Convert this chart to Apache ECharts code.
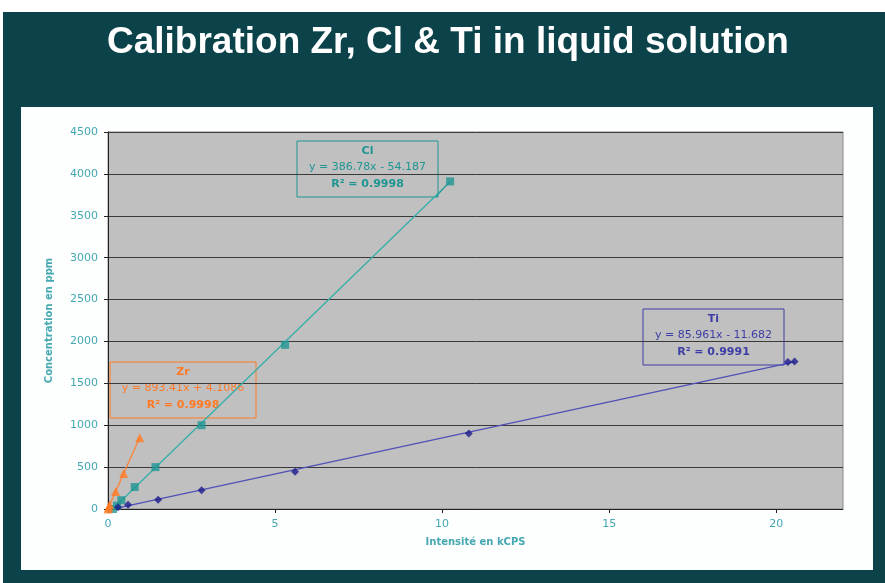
<!DOCTYPE html>
<html>
<head>
<meta charset="utf-8">
<script src="https://cdn.jsdelivr.net/npm/echarts@6/dist/echarts.min.js"></script>
<style>
  html, body { margin: 0; padding: 0; background: #fff; }
  #chart { width: 885px; height: 583px; }
</style>
</head>
<body>
<div id="chart"></div>
<script>
// calibration points (x = kCPS, y = ppm)
const clX = [0.15, 0.27, 0.4, 0.8, 1.42, 2.8, 5.3, 10.24];
const clY = [0, 40, 105, 262, 500, 1000, 1960, 3910];
const tiX = [0.3, 0.6, 1.5, 2.8, 5.6, 10.8, 20.35, 20.55];
const tiY = [20, 50, 110, 225, 445, 900, 1755, 1760];
const zrX = [0, 0.02, 0.05, 0.23, 0.47, 0.95];
const zrY = [0, 20, 50, 210, 425, 850];

// trendline coefficients [slope, intercept] as printed in the boxes
const clFit = [386.78, -54.187];
const tiFit = [85.961, -11.682];
const zrFit = [893.41, 4.1086];

const xTicks = [0, 5, 10, 15, 20];

const CL = '#1f9592', CL_LINE = '#34aea9';
const TI = '#1c1c8c', TI_LINE = '#5050b8';
const ZR = '#ff7a26', ZR_LINE = '#ff8336';
const LBL = '#45a8b2';

function pts(xs, ys) { return xs.map((x, i) => [x, ys[i]]); }
function trend(xs, fit) {
  const a = Math.min(...xs), b = Math.max(...xs);
  return [[a, fit[0] * a + fit[1]], [b, fit[0] * b + fit[1]]];
}

let myChart = echarts.init(document.getElementById('chart'));

function box(id, x, y, w, h, color, name, eq, r2) {
  return {
    id: id, type: 'group', x: x, y: y, z: 100,
    children: [
      { type: 'rect', shape: { x: 0, y: 0, width: w, height: h }, style: { fill: 'rgba(0,0,0,0)', stroke: color, lineWidth: 1 } },
      { type: 'text', x: w / 2, y: 10, style: { text: name, fill: color, font: 'bold 11px "DejaVu Sans"', align: 'center', verticalAlign: 'middle' } },
      { type: 'text', x: w / 2, y: 26, style: { text: eq, fill: color, font: '11px "DejaVu Sans"', align: 'center', verticalAlign: 'middle' } },
      { type: 'text', x: w / 2, y: 43, style: { text: r2, fill: color, font: 'bold 11px "DejaVu Sans"', align: 'center', verticalAlign: 'middle' } }
    ]
  };
}

myChart.setOption({
  animation: false,
  backgroundColor: '#fff',
  title: {
    text: 'Calibration Zr, Cl & Ti in liquid solution',
    left: 102, top: 19,
    textStyle: { color: '#fff', fontSize: 37, fontWeight: 'bold', fontFamily: '"Liberation Sans", Arial, sans-serif' }
  },
  graphic: [
    { id: 'dark', type: 'rect', z: -100, shape: { x: 3, y: 12, width: 882, height: 571 }, style: { fill: '#0c4249' } },
    { id: 'panel', type: 'rect', z: -99, shape: { x: 21, y: 107, width: 852, height: 463 }, style: { fill: '#fdfefe' } },
    box('clBox', 297, 141, 141, 56, CL, 'Cl', 'y = 386.78x - 54.187', 'R² = 0.9998'),
    box('zrBox', 110, 362, 146, 56, ZR, 'Zr', 'y = 893.41x + 4.1086', 'R² = 0.9998'),
    box('tiBox', 643, 309, 141, 56, '#3d3da6', 'Ti', 'y = 85.961x - 11.682', 'R² = 0.9991')
  ],
  grid: {
    left: 108, top: 132, width: 735, height: 377,
    show: true, backgroundColor: '#c0c0c0', borderColor: '#8a8a8a', borderWidth: 1
  },
  xAxis: {
    type: 'value', min: 0, max: 22, interval: 5,
    name: 'Intensité en kCPS', nameLocation: 'middle', nameGap: 28,
    nameTextStyle: { color: LBL, fontSize: 10, fontWeight: 'bold', fontFamily: '"DejaVu Sans"' },
    axisLine: { lineStyle: { color: '#222' } },
    axisTick: { inside: false, length: 4, customValues: xTicks, lineStyle: { color: '#222' } },
    axisLabel: { customValues: xTicks, color: LBL, fontSize: 11, fontFamily: '"DejaVu Sans"', margin: 10 },
    splitLine: { show: false }
  },
  yAxis: {
    type: 'value', min: 0, max: 4500, interval: 500,
    name: 'Concentration en ppm', nameLocation: 'middle', nameGap: 54, nameRotate: 90,
    nameTextStyle: { color: LBL, fontSize: 10, fontWeight: 'bold', fontFamily: '"DejaVu Sans"' },
    axisLine: { show: true, lineStyle: { color: '#222' } },
    axisTick: { show: true, inside: false, length: 4, lineStyle: { color: '#222' } },
    axisLabel: { color: LBL, fontSize: 11, fontFamily: '"DejaVu Sans"', margin: 10, formatter: (v) => String(v) },
    splitLine: { lineStyle: { color: '#3a3a3a', width: 1 } }
  },
  series: [
    { name: 'Cl fit', type: 'line', data: trend(clX, clFit), showSymbol: false, lineStyle: { color: CL_LINE, width: 1.3 }, z: 3 },
    { name: 'Ti fit', type: 'line', data: trend(tiX, tiFit), showSymbol: false, lineStyle: { color: TI_LINE, width: 1.3 }, z: 3 },
    { name: 'Zr fit', type: 'line', data: trend(zrX, zrFit), showSymbol: false, lineStyle: { color: ZR_LINE, width: 1.3 }, z: 3 },
    { name: 'Cl', type: 'scatter', data: pts(clX, clY), symbol: 'rect', symbolSize: 8, itemStyle: { color: CL }, z: 4 },
    { name: 'Ti', type: 'scatter', data: pts(tiX, tiY), symbol: 'diamond', symbolSize: 8, itemStyle: { color: TI }, z: 4 },
    { name: 'Zr', type: 'scatter', data: pts(zrX, zrY), symbol: 'triangle', symbolSize: 9, itemStyle: { color: ZR }, z: 4 }
  ]
});

// leader lines from the label boxes to the last points
let clEnd = myChart.convertToPixel({ gridIndex: 0 }, [clX[clX.length - 1], clY[clY.length - 1]]);
let tiEnd = myChart.convertToPixel({ gridIndex: 0 }, [tiX[tiX.length - 2], tiY[tiY.length - 2]]);
myChart.setOption({
  graphic: [
    { id: 'clLead', type: 'line', z: 99, shape: { x1: 436, y1: 197, x2: clEnd[0] - 3, y2: clEnd[1] + 3 }, style: { stroke: CL, lineWidth: 1 } },
    { id: 'tiLead', type: 'line', z: 99, shape: { x1: 784, y1: 365, x2: tiEnd[0] - 2, y2: tiEnd[1] + 1 }, style: { stroke: '#3d3da6', lineWidth: 1 } }
  ]
});
</script>
</body>
</html>
